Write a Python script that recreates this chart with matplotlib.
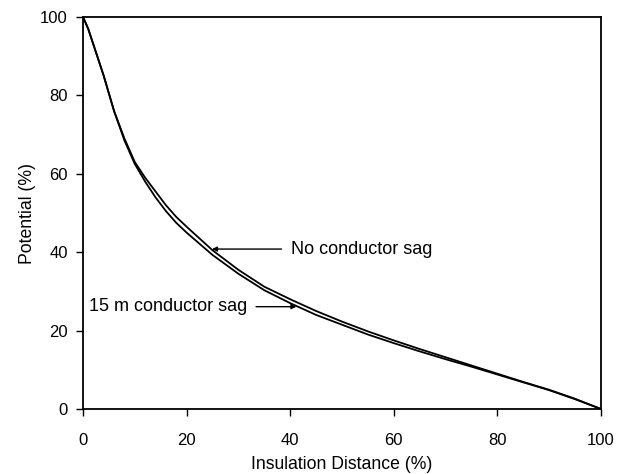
import matplotlib
matplotlib.use("Agg")
import matplotlib.pyplot as plt

plt.rcParams['font.family'] = ['Liberation Sans', 'DejaVu Sans']

x_vals = [0, 1, 2, 3, 4, 5, 6, 8, 10, 12, 14, 16, 18, 20, 25, 30, 35, 40, 45, 50, 55, 60,
          65, 70, 75, 80, 85, 90, 95, 100]
no_sag = [100, 97, 93, 89, 85, 80.5, 76, 69, 63, 59, 55.5, 52, 49, 46.5, 40.5, 35.5,
          31.2, 28, 25, 22.3, 19.8, 17.5, 15.3, 13.2, 11.1, 9, 6.9, 4.9, 2.6, 0]
sag_15m = [100, 97, 93, 89, 85, 80.5, 76, 68.5, 62.5, 58, 54, 50.5, 47.5, 45, 39.3,
           34.5, 30.3, 27, 24, 21.5, 19, 16.8, 14.7, 12.7, 10.8, 8.8, 6.8, 4.8, 2.5, 0]
x_ticks = [0, 20, 40, 60, 80, 100]
y_ticks = [0, 20, 40, 60, 80, 100]

fig = plt.figure(figsize=(6.26, 4.74), dpi=100)
ax = fig.add_axes([83/626, 1 - 409/474, (601-83)/626, (409-17)/474])

ax.plot(x_vals, no_sag, color='black', lw=1.3)
ax.plot(x_vals, sag_15m, color='black', lw=1.3)

ax.set_xlim(0, 100)
ax.set_ylim(0, 100)
ax.set_xticks(x_ticks)
ax.set_yticks(y_ticks)
ax.tick_params(direction='out', length=5, width=1, labelsize=12)
ax.tick_params(axis='x', pad=12)
ax.tick_params(axis='y', pad=6)
for s in ax.spines.values():
    s.set_linewidth(1.3)

ax.set_xlabel('Insulation Distance (%)', fontsize=12.7, labelpad=6)
ax.set_ylabel('Potential (%)', fontsize=12.7, labelpad=3)

ax.annotate('No conductor sag', xy=(24.9, 40.8), xytext=(40.2, 40.8),
            fontsize=13, ha='left', va='center',
            arrowprops=dict(arrowstyle='-|>', color='black', lw=1,
                            mutation_scale=7, shrinkA=5, shrinkB=0))
ax.annotate('15 m conductor sag', xy=(41.2, 26.1), xytext=(31.8, 26.1),
            fontsize=13, ha='right', va='center',
            arrowprops=dict(arrowstyle='-|>', color='black', lw=1,
                            mutation_scale=7, shrinkA=4, shrinkB=0))

fig.savefig('out.png', dpi=100)
